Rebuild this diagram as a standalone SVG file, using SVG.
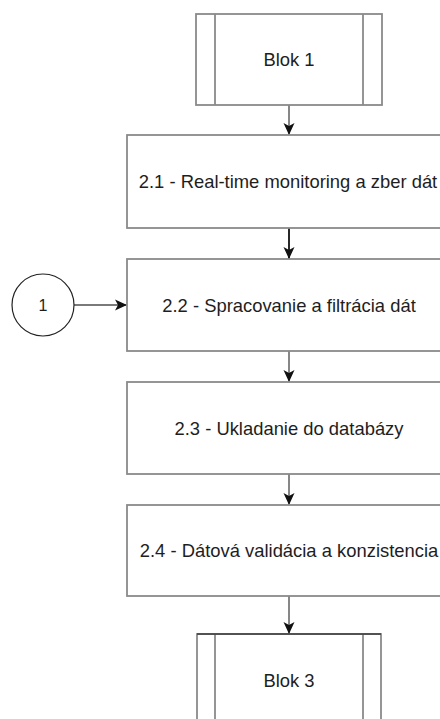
<svg xmlns="http://www.w3.org/2000/svg" width="440" height="719" viewBox="0 0 440 719">
  <style>
    .box { fill: #ffffff; stroke: #8a8a8a; stroke-width: 1.8; }
    .inner { stroke: #8a8a8a; stroke-width: 1.8; fill: none; }
    .lbl { font-family: "Liberation Sans", Arial, sans-serif; font-size: 18.4px; fill: #1e1e1e; text-anchor: middle; }
    .edge { stroke: #7a7a7a; stroke-width: 1.8; fill: none; marker-end: url(#arrow); }
    .edge-dark { stroke: #111111; stroke-width: 1.8; fill: none; marker-end: url(#arrow); }
  </style>
  <defs>
    <marker id="arrow" markerUnits="userSpaceOnUse" markerWidth="13" markerHeight="12" refX="12" refY="6" orient="auto" viewBox="0 0 13 12">
      <path d="M0,0.5 L12,6 L0,11.5 L3,6 Z" fill="#111111"/>
    </marker>
  </defs>
  <rect width="440" height="719" fill="#ffffff"/>

  <g id="connectors">
    <line class="edge" x1="289" y1="105" x2="289" y2="135"/>
    <line class="edge-dark" x1="289" y1="228" x2="289" y2="259"/>
    <line class="edge" x1="289" y1="351" x2="289" y2="382"/>
    <line class="edge" x1="289" y1="474" x2="289" y2="505"/>
    <line class="edge" x1="289" y1="596" x2="289" y2="634"/>
    <line class="edge" x1="74" y1="305" x2="127" y2="305"/>
  </g>

  <g id="blok1">
    <rect class="box" x="196" y="14" width="186" height="91"/>
    <line class="inner" x1="215" y1="14" x2="215" y2="105"/>
    <line class="inner" x1="363" y1="14" x2="363" y2="105"/>
    <text class="lbl" x="289" y="66">Blok 1</text>
  </g>

  <g id="step-2-1">
    <rect class="box" x="127" y="135" width="324" height="93"/>
    <text class="lbl" x="288" y="188">2.1 - Real-time monitoring a zber dát</text>
  </g>

  <g id="step-2-2">
    <rect class="box" x="127" y="259" width="324" height="92"/>
    <text class="lbl" x="289" y="311.5">2.2 - Spracovanie a filtrácia dát</text>
  </g>

  <g id="step-2-3">
    <rect class="box" x="127" y="382" width="324" height="92"/>
    <text class="lbl" x="289" y="434.5">2.3 - Ukladanie do databázy</text>
  </g>

  <g id="step-2-4">
    <rect class="box" x="127" y="505" width="324" height="91"/>
    <text class="lbl" x="289" y="557">2.4 - Dátová validácia a konzistencia</text>
  </g>

  <g id="blok3">
    <rect class="box" x="197" y="634" width="184" height="91"/>
    <line class="inner" x1="215" y1="634" x2="215" y2="725"/>
    <line class="inner" x1="363" y1="634" x2="363" y2="725"/>
    <line x1="197" y1="634" x2="381" y2="634" stroke="#111111" stroke-width="1.2"/>
    <text class="lbl" x="289" y="687">Blok 3</text>
  </g>

  <g id="connector-1">
    <circle cx="43" cy="305" r="31" fill="#ffffff" stroke="#222222" stroke-width="1.2"/>
    <text class="lbl" x="43" y="310.8" style="font-size:16px">1</text>
  </g>
</svg>
